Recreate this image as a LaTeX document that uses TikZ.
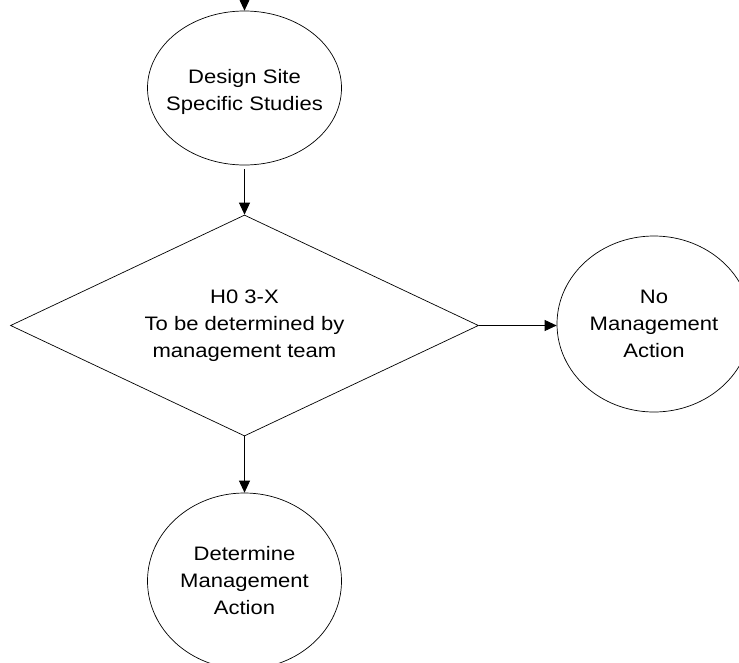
\documentclass[tikz,border=0pt]{standalone}
\usepackage{fontspec}
\setmainfont{Liberation Sans}[FakeStretch=1.13]
\usetikzlibrary{shapes.geometric,arrows.meta}
\begin{document}
\begin{tikzpicture}[x=1pt,y=-1pt,
  every node/.style={font=\fontsize{19.5}{27}\selectfont, align=center, inner sep=0pt},
  ell/.style={draw, ellipse, line width=0.7pt},
  dec/.style={draw, diamond, aspect=2.2, line width=0.7pt, minimum width=468pt, minimum height=221pt},
  conn/.style={draw, line width=0.7pt, -{Triangle[length=12pt,width=11pt]}},
  lbl/.style={}]
\useasboundingbox (0,0) rectangle (739,662);
\coordinate (in) at (244.5,-10);
\node[ell, minimum width=194pt, minimum height=154pt] (design) at (244.5,88) {};
\node[lbl] (designtxt) at (244.5,92) {Design Site\\Specific Studies};
\node[dec] (h0) at (244.5,325.5) {H0 3-X\\To be determined by\\management team};
\node[ell, minimum width=194pt, minimum height=176pt] (nomgmt) at (654,324) {No\\Management\\Action};
\node[ell, minimum width=194pt, minimum height=176pt] (detmgmt) at (244.5,581) {Determine\\Management\\Action};
\draw[conn] (in) -- (design.north);
\draw[conn] ([yshift=-4pt]design.south) -- (h0.north);
\draw[conn] (h0.east) -- (h0.east -| nomgmt.west);
\draw[conn] (h0.south) -- (detmgmt.north);
\end{tikzpicture}
\end{document}
